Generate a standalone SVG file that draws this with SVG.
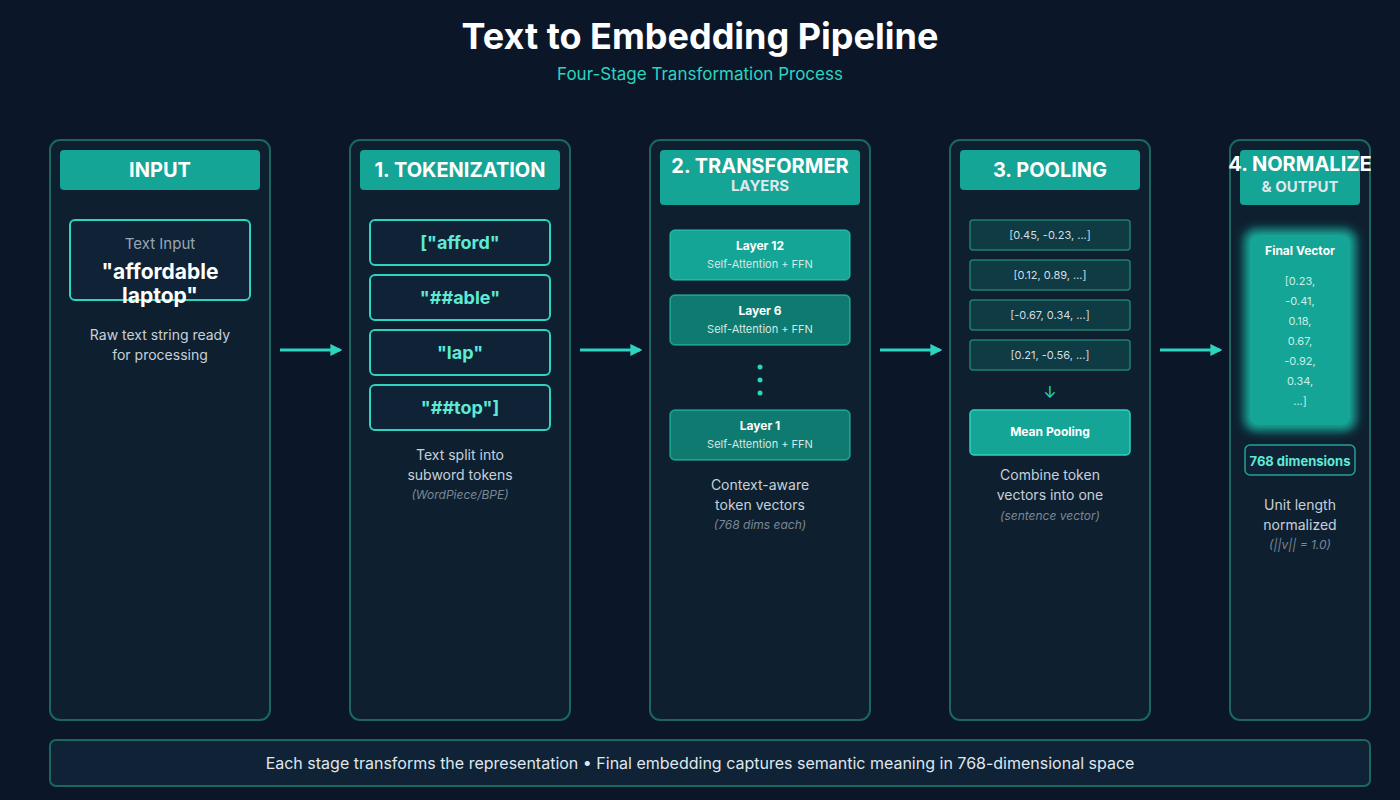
<svg xmlns="http://www.w3.org/2000/svg" width="1400" height="800" viewBox="0 0 1400 800">
<defs>
<style>
text{font-family:Inter,"Noto Sans","Liberation Sans",sans-serif;text-anchor:middle}
.panel{fill:#0e2030;stroke:#1c6660;stroke-width:2}
.hdr{fill:#14a596}
.ht{fill:#fff;font-weight:700;font-size:20px}
.hs{fill:#dfe7ee;font-weight:700;font-size:15px}
.tok{fill:#0f2236;stroke:#2dd4bf;stroke-width:2}
.tokt{fill:#5eead4;font-weight:700;font-size:18px}
.lay{fill:#0f7a6f;stroke:#2dd4bf;stroke-width:1.5;stroke-opacity:.6}
.lt{fill:#fff;font-weight:700;font-size:12px}
.ls{fill:#d6e9e6;font-size:11px}
.vec{fill:#0f3b44;stroke:#1f7d72;stroke-width:1.5}
.vt{fill:#d2dde4;font-size:11px}
.desc{fill:#c7d0d8;font-size:14px}
.it{fill:#7b8794;font-size:12px;font-style:italic}
.arr{stroke:#2dd4bf;stroke-width:3;fill:none}
.fv{fill:#c8efe9;font-size:11px}
</style>
<marker id="ah" viewBox="0 0 10 10" refX="8" refY="5" markerWidth="4" markerHeight="4" orient="auto"><path d="M0,0 L10,5 L0,10 z" fill="#2dd4bf"/></marker>
<filter id="blur" x="-30%" y="-30%" width="160%" height="160%"><feGaussianBlur stdDeviation="5"/></filter>
</defs>
<rect width="1400" height="800" fill="#0b1729"/>
<text x="700" y="49" fill="#fff" font-size="36" font-weight="700">Text to Embedding Pipeline</text>
<text x="700" y="80" fill="#2dd4bf" font-size="17">Four-Stage Transformation Process</text>

<g id="input">
<rect class="panel" x="50" y="140" width="220" height="580" rx="10"/>
<rect class="hdr" x="60" y="150" width="200" height="40" rx="4"/>
<text class="ht" x="160" y="177">INPUT</text>
<rect class="tok" x="70" y="220" width="180" height="80" rx="5"/>
<text x="160" y="249" fill="#9aa6b2" font-size="15">Text Input</text>
<text x="160" y="279" fill="#fff" font-size="21" font-weight="700">"affordable</text>
<text x="160" y="303" fill="#fff" font-size="21" font-weight="700">laptop"</text>
<text class="desc" x="160" y="340">Raw text string ready</text>
<text class="desc" x="160" y="360">for processing</text>
</g>

<g id="tokenization">
<rect class="panel" x="350" y="140" width="220" height="580" rx="10"/>
<rect class="hdr" x="360" y="150" width="200" height="40" rx="4"/>
<text class="ht" x="460" y="177">1. TOKENIZATION</text>
<rect class="tok" x="370" y="220" width="180" height="45" rx="5"/><text class="tokt" x="460" y="249">["afford"</text>
<rect class="tok" x="370" y="275" width="180" height="45" rx="5"/><text class="tokt" x="460" y="304">"##able"</text>
<rect class="tok" x="370" y="330" width="180" height="45" rx="5"/><text class="tokt" x="460" y="359">"lap"</text>
<rect class="tok" x="370" y="385" width="180" height="45" rx="5"/><text class="tokt" x="460" y="414">"##top"]</text>
<text class="desc" x="460" y="460">Text split into</text>
<text class="desc" x="460" y="480">subword tokens</text>
<text class="it" x="460" y="499">(WordPiece/BPE)</text>
</g>

<g id="transformer">
<rect class="panel" x="650" y="140" width="220" height="580" rx="10"/>
<rect class="hdr" x="660" y="150" width="200" height="55" rx="4"/>
<text class="ht" x="760" y="173" font-size="18">2. TRANSFORMER</text>
<text class="hs" x="760" y="191">LAYERS</text>
<rect class="lay" x="670" y="230" width="180" height="50" rx="5" style="fill:#14a596"/>
<text class="lt" x="760" y="250">Layer 12</text><text class="ls" x="760" y="268">Self-Attention + FFN</text>
<rect class="lay" x="670" y="295" width="180" height="50" rx="5"/>
<text class="lt" x="760" y="315">Layer 6</text><text class="ls" x="760" y="333">Self-Attention + FFN</text>
<circle cx="760" cy="367" r="2.5" fill="#2dd4bf"/><circle cx="760" cy="380" r="2.5" fill="#2dd4bf"/><circle cx="760" cy="393" r="2.5" fill="#2dd4bf"/>
<rect class="lay" x="670" y="410" width="180" height="50" rx="5"/>
<text class="lt" x="760" y="430">Layer 1</text><text class="ls" x="760" y="448">Self-Attention + FFN</text>
<text class="desc" x="760" y="490">Context-aware</text>
<text class="desc" x="760" y="510">token vectors</text>
<text class="it" x="760" y="529">(768 dims each)</text>
</g>

<g id="pooling">
<rect class="panel" x="950" y="140" width="200" height="580" rx="10"/>
<rect class="hdr" x="960" y="150" width="180" height="40" rx="4"/>
<text class="ht" x="1050" y="177">3. POOLING</text>
<rect class="vec" x="970" y="220" width="160" height="30" rx="3"/><text class="vt" x="1050" y="239">[0.45, -0.23, ...]</text>
<rect class="vec" x="970" y="260" width="160" height="30" rx="3"/><text class="vt" x="1050" y="279">[0.12, 0.89, ...]</text>
<rect class="vec" x="970" y="300" width="160" height="30" rx="3"/><text class="vt" x="1050" y="319">[-0.67, 0.34, ...]</text>
<rect class="vec" x="970" y="340" width="160" height="30" rx="3"/><text class="vt" x="1050" y="359">[0.21, -0.56, ...]</text>
<text x="1050" y="398" fill="#2dd4bf" font-size="16">↓</text>
<rect x="970" y="410" width="160" height="45" rx="4" fill="#14a596" stroke="#2dd4bf" stroke-width="1.5"/>
<text class="lt" x="1050" y="436" font-size="13">Mean Pooling</text>
<text class="desc" x="1050" y="480">Combine token</text>
<text class="desc" x="1050" y="500">vectors into one</text>
<text class="it" x="1050" y="520">(sentence vector)</text>
</g>

<g id="normalize">
<rect class="panel" x="1230" y="140" width="140" height="580" rx="10"/>
<rect class="hdr" x="1240" y="150" width="120" height="55" rx="4"/>
<text class="ht" x="1300" y="171" font-size="15">4. NORMALIZE</text>
<text class="hs" x="1300" y="192" font-size="13">&amp; OUTPUT</text>
<rect x="1244" y="229" width="112" height="202" rx="12" fill="#14a596" filter="url(#blur)"/>
<rect x="1250" y="235" width="100" height="190" rx="8" fill="#14a596"/>
<text class="lt" x="1300" y="255" font-size="14">Final Vector</text>
<text class="fv" x="1300" y="285">[0.23,</text>
<text class="fv" x="1300" y="305">-0.41,</text>
<text class="fv" x="1300" y="325">0.18,</text>
<text class="fv" x="1300" y="345">0.67,</text>
<text class="fv" x="1300" y="365">-0.92,</text>
<text class="fv" x="1300" y="385">0.34,</text>
<text class="fv" x="1300" y="405">...]</text>
<rect x="1245" y="445" width="110" height="30" rx="5" fill="#0f2236" stroke="#2dd4bf" stroke-opacity=".7" stroke-width="1.5"/>
<text x="1300" y="466" fill="#5eead4" font-size="13" font-weight="700">768 dimensions</text>
<text class="desc" x="1300" y="510" font-size="13">Unit length</text>
<text class="desc" x="1300" y="530" font-size="13">normalized</text>
<text class="it" x="1300" y="549" font-size="11">(||v|| = 1.0)</text>
</g>

<g id="connectors">
<line class="arr" x1="280" y1="350" x2="340" y2="350" marker-end="url(#ah)"/>
<line class="arr" x1="580" y1="350" x2="640" y2="350" marker-end="url(#ah)"/>
<line class="arr" x1="880" y1="350" x2="940" y2="350" marker-end="url(#ah)"/>
<line class="arr" x1="1160" y1="350" x2="1220" y2="350" marker-end="url(#ah)"/>
</g>

<g id="footer">
<rect x="50" y="740" width="1320" height="46" rx="6" fill="#0f2236" stroke="#1c6660" stroke-width="2"/>
<text x="700" y="769" fill="#dfe7ee" font-size="16">Each stage transforms the representation • Final embedding captures semantic meaning in 768-dimensional space</text>
</g>
</svg>
